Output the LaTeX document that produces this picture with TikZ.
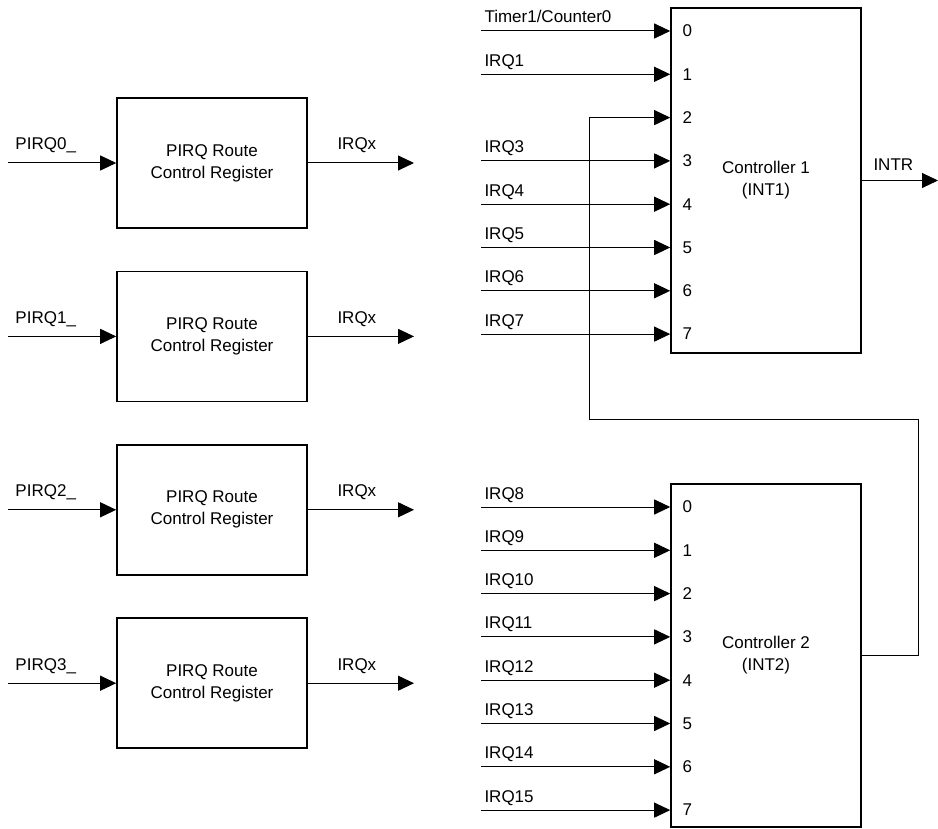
\documentclass[tikz,border=0pt]{standalone}
\usepackage{fontspec}
\setmainfont{Liberation Sans}
\usetikzlibrary{positioning, arrows.meta}

\begin{document}
\begin{tikzpicture}[x=1pt, y=-1pt, line width=1pt,
                    every node/.style={font=\fontsize{17}{22}\selectfont},
                    reg/.style={draw, line width=1.6pt, minimum width=190pt,
                                minimum height=130pt, align=center},
                    ctrl/.style={draw, line width=1.6pt, minimum width=190pt, align=center},
                    sig/.style={-{Triangle[length=16pt, width=15pt]}},
                    lbl/.style={anchor=base west, inner sep=0pt},
                    pin/.style={anchor=west, inner sep=0pt}]
\useasboundingbox (0,0) rectangle (938,829);

\foreach \i in {0,...,3} {
  \node[reg] (r\i) at (212, 163+173.4*\i) {PIRQ Route\\Control Register};
  \coordinate (in\i) at (8, 163+173.4*\i);
  \coordinate (out\i) at (414, 163+173.4*\i);
  \draw[sig] (in\i) -- (r\i);
  \draw[sig] (r\i) -- (out\i);
  \node[lbl] (pirq\i) at (15, 150+173.4*\i) {PIRQ\i\_};
  \node[lbl] (irqx\i) at (337, 150+173.4*\i) {IRQx};
}

\node[ctrl, minimum height=345pt] (c1) at (766, 180.5) {Controller 1\\(INT1)};
\node[ctrl, minimum height=343pt] (c2) at (766, 655.5) {Controller 2\\(INT2)};

\foreach \k in {0,...,7} {
  \node[pin] (c1n\k) at (682, 31+43.3*\k) {\k};
  \node[pin] (c2n\k) at (682, 507+43.3*\k) {\k};
}

\foreach \k/\t in {0/{Timer1/Counter0}, 1/IRQ1, 3/IRQ3, 4/IRQ4, 5/IRQ5, 6/IRQ6, 7/IRQ7} {
  \coordinate (c1s\k) at (481, 31+43.3*\k);
  \draw[sig] (c1s\k) -- (c1.west |- c1n\k);
  \node[lbl] (c1l\k) at (484, 23+43.3*\k) {\t};
}

\foreach \k in {0,...,7} {
  \pgfmathtruncatemacro\irq{8+\k}
  \coordinate (c2s\k) at (481, 507+43.3*\k);
  \draw[sig] (c2s\k) -- (c2.west |- c2n\k);
  \node[lbl] (c2l\k) at (484, 499+43.3*\k) {IRQ\irq};
}

\coordinate (fb1) at (918, 419);
\coordinate (fb2) at (589, 419);
\draw[sig] (c2.east) -| (fb1) -- (fb2) |- (c1.west |- c1n2);

\coordinate (intrend) at (938, 180.5);
\draw[sig] (c1.east) -- (intrend);
\node[lbl] (intr) at (873, 171) {INTR};
\end{tikzpicture}
\end{document}
